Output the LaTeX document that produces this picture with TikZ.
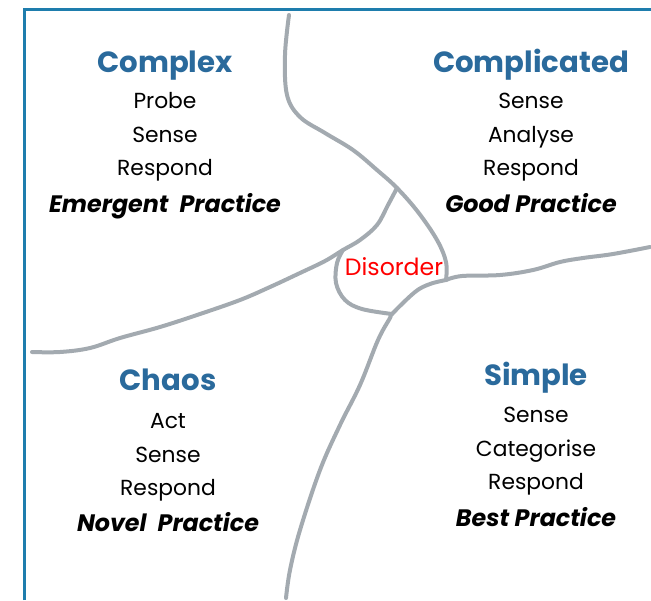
\documentclass[tikz,border=0pt]{standalone}
\usepackage{fontspec}
\setmainfont{Poppins}
\usepackage{tikz}
\usetikzlibrary{positioning}
\usepackage{xcolor}
\definecolor{titleblue}{HTML}{2A6A9C}
\definecolor{frameblue}{HTML}{1E7DAD}
\definecolor{linegray}{HTML}{A3AAB0}

\begin{document}
\begin{tikzpicture}[x=0.5pt,y=-0.5pt,node distance=16.75pt,on grid]
    \tikzstyle{quadrant}=[font=\bfseries\fontsize{14.6}{17}\selectfont, text=titleblue, inner sep=0pt, text height=1.5ex, text depth=0.3ex]
    \tikzstyle{item}=[font=\fontsize{10.9}{13}\selectfont, inner sep=0pt, text height=1.6ex, text depth=0.4ex]
    \tikzstyle{practice}=[font=\bfseries\itshape\fontsize{11.9}{14}\selectfont, inner sep=0pt, text height=1.6ex, text depth=0.4ex]
    \tikzstyle{border}=[line width=1.5pt, draw=frameblue]
    \tikzstyle{divide}=[line width=2pt, draw=linegray, line cap=round, line join=round]

    \useasboundingbox (0,0) rectangle (651,600);
    \draw[border] (24,600) -- (24,9) -- (651,9);

    % junctions
    \coordinate (J1) at (397,188);
    \coordinate (J2) at (343,250);
    \coordinate (J3) at (446,280);
    \coordinate (J4) at (392,314);

    % dividing lines
    \draw[divide] plot[smooth, tension=0.6] coordinates {(289,15) (285,55) (287,95) (300,117) (325,133) (353,150) (377,170) (J1) (418,212) (437,240) (446,262) (J3)};
    \draw[divide] plot[smooth, tension=0.6] coordinates {(J1) (388,205) (377,225) (360,240) (J2) (325,261) (300,273) (270,287) (240,300) (200,314) (160,327) (120,338) (90,348) (60,352) (32,352)};
    \draw[divide] plot[smooth, tension=0.6] coordinates {(J2) (337,263) (336,283) (345,300) (362,309) (J4)};
    \draw[divide] plot[smooth, tension=0.6] coordinates {(J3) (430,284) (415,292) (J4) (390,318) (378,340) (360,385) (340,425) (320,470) (300,530) (290,570) (286,598)};
    \draw[divide] plot[smooth, tension=0.6] coordinates {(J3) (462,276) (500,275) (533,270) (560,262) (583,258) (613,254) (650,247)};

    \node[item, text=red, font=\fontsize{11.8}{14}\selectfont] (disorder) at (394,269) {Disorder};

    \node[quadrant] (complex) at (165,66) {Complex};
    \node[item, below=18pt of complex] (complexA) {Probe};
    \node[item, below of=complexA] (complexB) {Sense};
    \node[item, below of=complexB] (complexC) {Respond};
    \node[practice, below=18.5pt of complexC] (complexD) {Emergent\ \ Practice};

    \node[quadrant] (complicated) at (531,66) {Complicated};
    \node[item, below=18pt of complicated] (complicatedA) {Sense};
    \node[item, below of=complicatedA] (complicatedB) {Analyse};
    \node[item, below of=complicatedB] (complicatedC) {Respond};
    \node[practice, below=18.5pt of complicatedC] (complicatedD) {Good Practice};

    \node[quadrant] (chaos) at (168,384) {Chaos};
    \node[item, below=19pt of chaos] (chaosA) {Act};
    \node[item, below of=chaosA] (chaosB) {Sense};
    \node[item, below of=chaosB] (chaosC) {Respond};
    \node[practice, below=18pt of chaosC] (chaosD) {Novel\ \ Practice};

    \node[quadrant] (simple) at (536,379) {Simple};
    \node[item, below=18.5pt of simple] (simpleA) {Sense};
    \node[item, below of=simpleA] (simpleB) {Categorise};
    \node[item, below of=simpleB] (simpleC) {Respond};
    \node[practice, below=18.5pt of simpleC] (simpleD) {Best Practice};
\end{tikzpicture}
\end{document}
